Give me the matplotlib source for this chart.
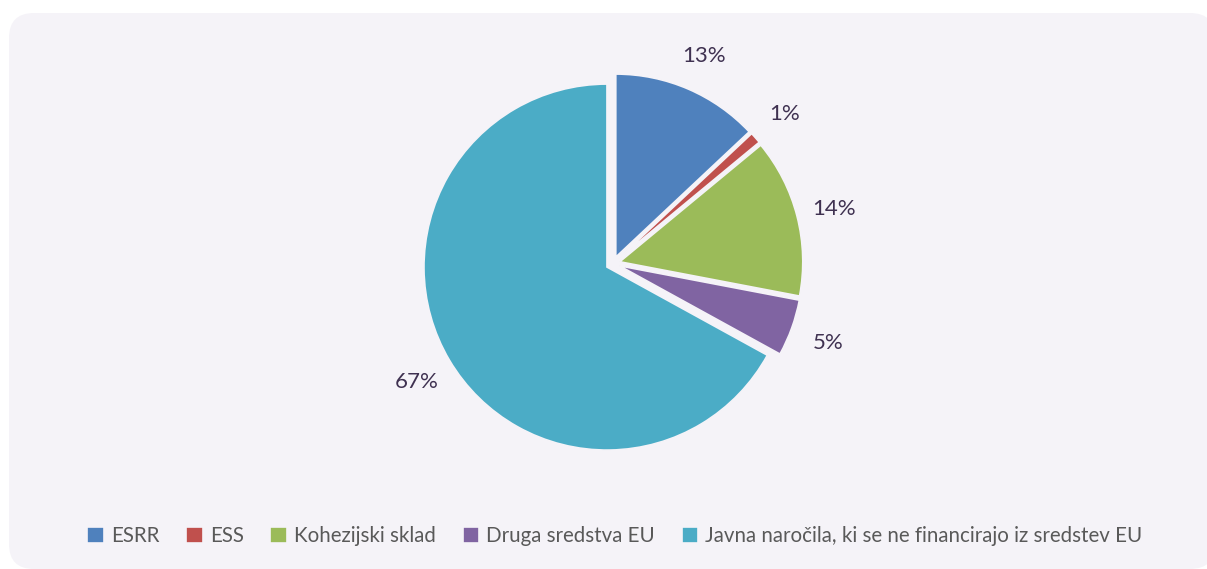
import matplotlib.pyplot as plt
from matplotlib.patches import FancyBboxPatch

# data
kategorije = ["ESRR", "ESS", "Kohezijski sklad", "Druga sredstva EU",
              "Javna naročila, ki se ne financirajo iz sredstev EU"]
deleži = [13, 1, 14, 5, 67]
barve = ["#4F81BD", "#C0504D", "#9BBB59", "#8064A2", "#4BACC6"]

ozadje = "#F5F3F8"
plt.rcParams['font.family'] = ['Lato', 'DejaVu Sans']

fig = plt.figure(figsize=(12.07, 5.69), dpi=100, facecolor='white')
ax = fig.add_axes([0, 0, 1, 1])

# panel z zaobljenimi robovi
ax.add_patch(FancyBboxPatch((9 + 25, 0 + 25), 1215 - 9 - 50, 556 - 50,
                            boxstyle="round,pad=25", facecolor=ozadje,
                            edgecolor='none', zorder=0))

wedges, txt, pct = ax.pie(deleži, labels=None, colors=barve, startangle=90,
                          counterclock=False, center=(613, 305.5), radius=183,
                          explode=[7] * len(deleži), autopct='%1.0f%%',
                          pctdistance=1.21, frame=False,
                          wedgeprops=dict(edgecolor=ozadje, linewidth=1.2, zorder=2),
                          textprops=dict(fontsize=16, color='#3F3151'))
for t in pct:
    t.set_va('center_baseline')

ax.set_xlim(0, 1207)
ax.set_ylim(0, 569)
ax.set_aspect('auto')
ax.axis('off')

leg = ax.legend(wedges, kategorije, loc='center', bbox_to_anchor=(615, 33),
                bbox_transform=ax.transData, ncol=5, frameon=False,
                fontsize=14.8, handlelength=0.8, handleheight=0.8,
                handletextpad=0.35, columnspacing=1.3, borderpad=0)
for t in leg.get_texts():
    t.set_color('#595959')

fig.savefig('out.png', dpi=100, facecolor='white')
